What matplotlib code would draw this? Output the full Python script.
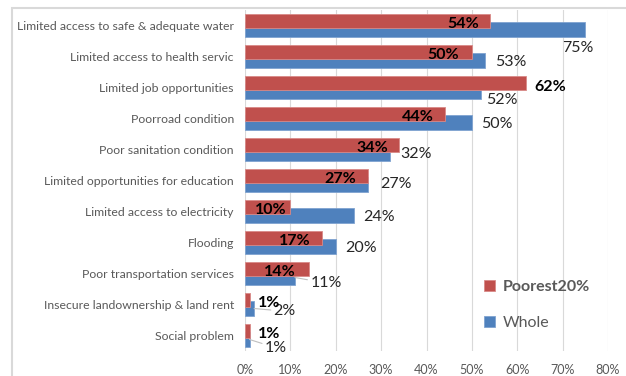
import matplotlib.pyplot as plt
from matplotlib.patches import Rectangle
from matplotlib.ticker import PercentFormatter
import numpy as np

# --------------------------------
# DATA
# --------------------------------

categories = [
    "Limited access to safe & adequate water",
    "Limited access to health servic",
    "Limited job opportunities",
    "Poorroad condition",
    "Poor sanitation condition",
    "Limited opportunities for education",
    "Limited access to electricity",
    "Flooding",
    "Poor transportation services",
    "Insecure landownership & land rent",
    "Social problem",
]

poorest = [54, 50, 62, 44, 34, 27, 10, 17, 14, 1, 1]
whole = [75, 53, 52, 50, 32, 27, 24, 20, 11, 2, 1]

# label offsets in points (dx, dy) from bar end / bar centre
red_offsets = [(-8, 2), (-9, 2), (6, 3), (-8, 2), (-8, 2), (-8, 2),
               (-3, 2), (-8, 2), (-9, 2), (6, 2), (6, 2)]
red_inside = [True, True, False, True, True, True,
              True, True, True, False, False]
blue_offsets = [(-17, -13), (7, -1), (4, -6), (7, -1), (7, 0), (9, 0),
                (7, -1), (7, -1), (11, -4), (14, -2), (11, -6)]
blue_leader = [False, False, False, False, False, False,
               False, False, True, True, True]

RED = "#C0504D"
BLUE = "#4F81BD"
GRAY = "#595959"

NUM_FONT = ["Lato", "DejaVu Sans"]
CAT_FONT = ["Lato", "DejaVu Sans"]

# --------------------------------
# FIGURE
# --------------------------------

fig = plt.figure(figsize=(6.26, 3.76), dpi=100)
ax = fig.add_axes([245 / 626, 1 - 351 / 376, 363 / 626, 341 / 376])

y = np.arange(len(categories))
px = 1 / 31.0  # one pixel in row units

red_h = 14 * px
blue_h = 15 * px
red_y = y - 4.5 * px
blue_y = y + 4 * px

ax.barh(blue_y, whole, height=blue_h, color=BLUE, edgecolor="#7FA3D0",
        linewidth=0.6, zorder=2, label="Whole")
ax.barh(red_y, poorest, height=red_h, color=RED, edgecolor="#D98A88",
        linewidth=0.6, zorder=3, label="Poorest20%")

# red labels
for i, v in enumerate(poorest):
    dx, dy = red_offsets[i]
    ax.annotate(f"{v}%", xy=(v, red_y[i]), xytext=(dx, -dy),
                textcoords="offset points",
                ha="right" if red_inside[i] else "left", va="center",
                fontsize=11.5, fontweight="bold", color="black",
                family=NUM_FONT, zorder=5)

# blue labels
for i, v in enumerate(whole):
    dx, dy = blue_offsets[i]
    ax.annotate(f"{v}%", xy=(v, blue_y[i]), xytext=(dx, dy),
                textcoords="offset points", ha="left", va="center",
                fontsize=11.5, color="#262626", family=NUM_FONT, zorder=4,
                arrowprops=dict(arrowstyle="-", color="#BFBFBF", lw=0.8,
                                shrinkA=0, shrinkB=0)
                if blue_leader[i] else None)

ax.set_xlim(0, 80)
ax.set_ylim(len(categories) - 0.5, -0.5)
ax.set_xticks(np.arange(0, 81, 10))
ax.xaxis.set_major_formatter(PercentFormatter(decimals=0))
ax.set_yticks(y)
ax.set_yticklabels(categories, family=CAT_FONT, fontsize=8.8, color=GRAY)

for lab in ax.get_xticklabels():
    lab.set_family(NUM_FONT)
    lab.set_fontsize(9)
    lab.set_color(GRAY)

ax.tick_params(axis="both", length=0)
ax.tick_params(axis="y", pad=8)
ax.tick_params(axis="x", pad=9)
ax.grid(axis="x", color="#D9D9D9", linewidth=0.8, zorder=0)
ax.set_axisbelow(True)
for s in ax.spines.values():
    s.set_visible(False)

handles, labels = ax.get_legend_handles_labels()
leg = ax.legend(handles[::-1], labels[::-1], loc="lower left",
                bbox_to_anchor=(0.618, 0.018), frameon=False,
                handlelength=0.7, handleheight=0.7, handletextpad=0.5,
                labelspacing=1.4, prop={"family": NUM_FONT, "size": 11.5})
for t in leg.get_texts():
    t.set_color(GRAY)
leg.get_texts()[0].set_fontweight("bold")

# chart-area frame
fig.patches.append(Rectangle((12 / 626, -0.05), 1.2, 1 - 8 / 376 + 0.05,
                             transform=fig.transFigure, fill=False,
                             edgecolor="#D9D9D9", linewidth=1.5))

fig.savefig("out.png", dpi=100)
